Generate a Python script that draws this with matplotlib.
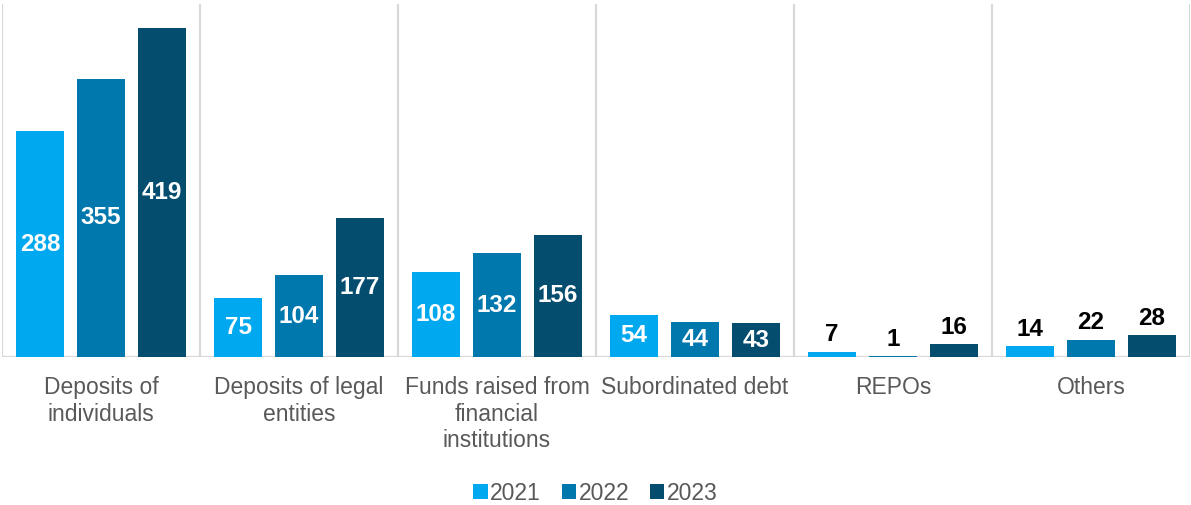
import matplotlib
matplotlib.use("Agg")
import matplotlib.pyplot as plt
import numpy as np
from matplotlib.patches import Patch

plt.rcParams['font.family'] = ['Liberation Sans', 'DejaVu Sans']

categories = ["Deposits of\nindividuals", "Deposits of legal\nentities",
              "Funds raised from\nfinancial\ninstitutions", "Subordinated debt",
              "REPOs", "Others"]
years = ["2021", "2022", "2023"]
v2021 = [288, 75, 108, 54, 7, 14]
v2022 = [355, 104, 132, 44, 1, 22]
v2023 = [419, 177, 156, 43, 16, 28]
series = [v2021, v2022, v2023]
colors = ["#00A8EF", "#0077AD", "#044D6F"]
inside_min = 40  # values at or above this get labels inside the bar

fig = plt.figure(figsize=(11.91, 5.05), dpi=100)
ax = fig.add_axes([2 / 1191, (505 - 357) / 505, 1188 / 1191, 353 / 505])

x = np.arange(len(categories))
width = 0.2424
step = 0.308
for i, (vals, col) in enumerate(zip(series, colors)):
    pos = x + (i - 1) * step
    bars = ax.bar(pos, vals, width, color=col, zorder=3)
    for b, v in zip(bars, vals):
        cx = b.get_x() + b.get_width() / 2
        if v >= inside_min:
            ax.text(cx, v / 2, str(v), ha="center", va="center",
                    color="white", fontsize=17.5, fontweight="bold", zorder=4)
        else:
            ax.text(cx, v + 7, str(v), ha="center", va="bottom",
                    color="black", fontsize=17.5, fontweight="bold", zorder=4)

ax.set_xlim(-0.5, len(categories) - 0.5)
ax.set_ylim(0, 450)

# vertical category separators
for s in np.arange(-0.5, len(categories), 1.0):
    ax.axvline(s, color="#D9D9D9", lw=1.6, zorder=1)
ax.axhline(0, color="#D9D9D9", lw=1.6, zorder=2)

for sp in ax.spines.values():
    sp.set_visible(False)
ax.set_yticks([])
ax.set_xticks(x)
ax.set_xticklabels(categories, fontsize=16.5, color="#595959", linespacing=1.17)
ax.tick_params(axis="x", length=0, pad=14)

handles = [Patch(facecolor=c, edgecolor="none") for c in colors]
fig.legend(handles, years, loc="center", bbox_to_anchor=(0.5, 1 - 493 / 505),
           ncol=3, frameon=False, fontsize=16.5, labelcolor="#595959",
           handlelength=0.62, handleheight=0.62, handletextpad=0.12,
           columnspacing=0.9)

fig.savefig("out.png", dpi=100)
